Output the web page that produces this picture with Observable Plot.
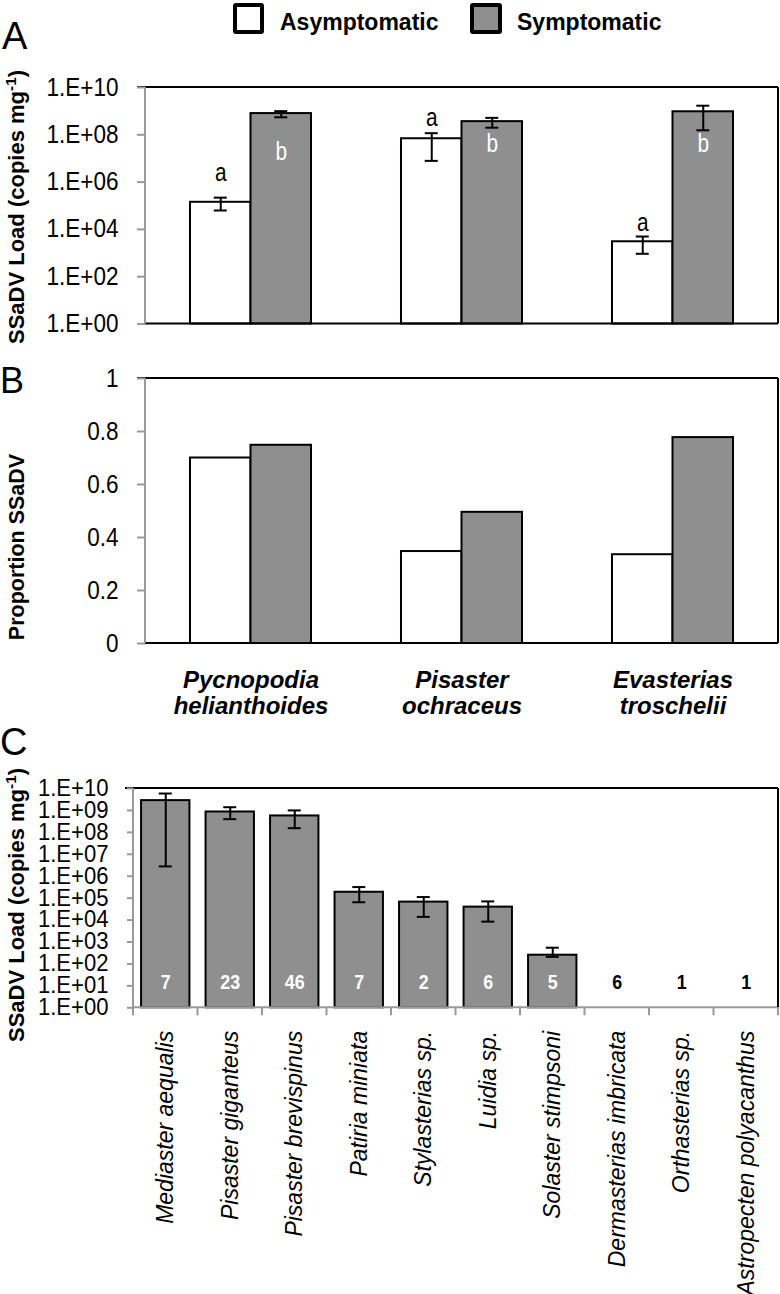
<!DOCTYPE html>
<html><head><meta charset="utf-8">
<script src="https://cdn.jsdelivr.net/npm/d3@7"></script>
<script src="https://cdn.jsdelivr.net/npm/@observablehq/plot@0.6"></script>
<style>
body{margin:0;background:#fff;}
#root{position:relative;width:780px;height:1294px;overflow:hidden;font-family:"Liberation Sans",Arial,sans-serif;color:#000;}
#root svg{position:absolute;left:0;overflow:visible;}
.rot{position:absolute;transform:translate(-50%,-50%) rotate(-90deg);white-space:nowrap;font-weight:bold;line-height:1;}
.rot sup{font-size:0.7em;vertical-align:0.55em;line-height:0;}
.letter{position:absolute;line-height:1;}
.swatch{position:absolute;box-sizing:border-box;border:4px solid #000;border-radius:3px;width:31px;height:31px;top:3px;}
.legtext{position:absolute;font-weight:bold;font-size:23px;line-height:1;top:10.5px;white-space:nowrap;}
</style></head><body><div id="root"></div>
<script>
// ---------- data ----------
const species = ["Pycnopodia helianthoides", "Pisaster ochraceus", "Evasterias troschelii"];
const speciesLines = ["Pycnopodia\nhelianthoides", "Pisaster\nochraceus", "Evasterias\ntroschelii"];
const statuses = ["Asymptomatic", "Symptomatic"];

// Panel A: SSaDV load (copies per mg)
const loadAsym   = [1.4e5, 6.8e7, 3.0e3];
const loadAsymLo = [6.3e4, 7.9e6, 9.3e2];
const loadAsymHi = [2.2e5, 1.17e8, 5.0e3];
const loadSym    = [7.9e8, 3.6e8, 9.4e8];
const loadSymLo  = [5.5e8, 2.0e8, 1.55e8];
const loadSymHi  = [1.0e9, 5.2e8, 1.7e9];
const letterAsym = ["a", "a", "a"];
const letterSym  = ["b", "b", "b"];
const letterAsymAt = [2.6e6, 5.4e8, 1.95e4];
const letterSymAt  = [1.96e7, 4.3e7, 4.3e7];

// Panel B: proportion SSaDV positive
const propAsym = [0.70, 0.347, 0.335];
const propSym  = [0.748, 0.495, 0.777];

// Panel C: other species
const otherSpecies = ["Mediaster aequalis", "Pisaster giganteus", "Pisaster brevispinus", "Patiria miniata",
  "Stylasterias sp.", "Luidia sp.", "Solaster stimpsoni", "Dermasterias imbricata", "Orthasterias sp.",
  "Astropecten polyacanthus"];
const otherLoad = [2.8e9, 8.5e8, 5.6e8, 1.86e5, 6.6e4, 3.9e4, 2.5e2, null, null, null];
const otherLo   = [2.8e6, 4.0e8, 1.55e8, 6.5e4, 1.4e4, 8.5e3, 2.1e2, null, null, null];
const otherHi   = [5.9e9, 1.4e9, 1.0e9, 3.2e5, 1.12e5, 7.1e4, 5.5e2, null, null, null];
const otherN    = [7, 23, 46, 7, 2, 6, 5, 6, 1, 1];

// tick labels
const tickLoadA = [1, 1e2, 1e4, 1e6, 1e8, 1e10];
const tickLoadALabels = ["1.E+00", "1.E+02", "1.E+04", "1.E+06", "1.E+08", "1.E+10"];
const tickLoadC = [1, 1e1, 1e2, 1e3, 1e4, 1e5, 1e6, 1e7, 1e8, 1e9, 1e10];
const tickLoadCLabels = ["1.E+00", "1.E+01", "1.E+02", "1.E+03", "1.E+04", "1.E+05", "1.E+06", "1.E+07", "1.E+08", "1.E+09", "1.E+10"];
const tickProp = [0, 0.2, 0.4, 0.6, 0.8, 1];
const tickPropLabels = ["0", "0.2", "0.4", "0.6", "0.8", "1"];

// ---------- style ----------
const W = 780;
const GRAY = "#8f8f8f", AXIS = "#9a9a9a";
const BASE = '"Liberation Sans", Arial, sans-serif';
const CAP = 13;

const root = document.getElementById("root");

function frameLines(c, w = 2) {
  return (index, scales, values, dim) => {
    const {width, height, marginTop, marginRight, marginBottom, marginLeft} = dim;
    const x1 = marginLeft, x2 = width - marginRight, y1 = marginTop, y2 = height - marginBottom;
    const g = d3.create("svg:g").attr("stroke-width", w).attr("fill", "none");
    const seg = (col, a, b, cc, d) => g.append("line").attr("x1", a).attr("y1", b).attr("x2", cc).attr("y2", d).attr("stroke", col);
    seg(c.bottom, x1, y2, x2, y2);
    seg(c.right, x2, y1, x2, y2);
    seg(c.top, x1 - 8, y1, x2, y1);
    seg(c.left, x1, y1, x1, y2);
    return g.node();
  };
}

function place(svg, top) {
  svg.style.top = top + "px";
  root.appendChild(svg);
}

// emulate a condensed (Arial Narrow-like) face by compressing glyphs horizontally
function squeeze(svg, selector, factor) {
  svg.querySelectorAll(selector).forEach(el => {
    const len = el.getComputedTextLength();
    if (len > 0) {
      el.setAttribute("textLength", (len * factor).toFixed(2));
      el.setAttribute("lengthAdjust", "spacingAndGlyphs");
    }
  });
}

// ---------- Panel A ----------
const mL = 145, mR = 2;
const pI = 0.4265, pO = pI / 2;
const stepA = (W - mL - mR) / (species.length - pI + 2 * pO);
const bwA = stepA * (1 - pI);

const rowsAsym = species.map((s, i) => ({species: s, status: statuses[0], load: loadAsym[i], lo: loadAsymLo[i], hi: loadAsymHi[i], letter: letterAsym[i], at: letterAsymAt[i], prop: propAsym[i]}));
const rowsSym = species.map((s, i) => ({species: s, status: statuses[1], load: loadSym[i], lo: loadSymLo[i], hi: loadSymHi[i], letter: letterSym[i], at: letterSymAt[i], prop: propSym[i]}));

const capAsym = {x: "species", insetLeft: bwA / 4 - CAP / 2, insetRight: 3 * bwA / 4 - CAP / 2, strokeWidth: 2};
const capSym = {x: "species", insetLeft: 3 * bwA / 4 - CAP / 2, insetRight: bwA / 4 - CAP / 2, strokeWidth: 2};

const plotA = Plot.plot({
  width: W, height: 257, marginTop: 10, marginBottom: 10.5, marginLeft: mL, marginRight: mR,
  style: {fontFamily: BASE, background: "transparent", overflow: "visible"},
  x: {type: "band", domain: species, paddingInner: pI, paddingOuter: pO, round: false, axis: null},
  y: {type: "log", domain: [1, 1e10], label: null},
  marks: [
    Plot.barY(rowsAsym, {x: "species", y1: 1, y2: "load", fill: "white", stroke: "black", strokeWidth: 2, insetRight: bwA / 2}),
    Plot.barY(rowsSym, {x: "species", y1: 1, y2: "load", fill: GRAY, stroke: "black", strokeWidth: 2, insetLeft: bwA / 2}),
    Plot.ruleX(rowsAsym, {x: "species", y1: "lo", y2: "hi", dx: -bwA / 4, strokeWidth: 2}),
    Plot.ruleX(rowsSym, {x: "species", y1: "lo", y2: "hi", dx: bwA / 4, strokeWidth: 2}),
    Plot.tickY(rowsAsym, {...capAsym, y: "hi"}),
    Plot.tickY(rowsAsym, {...capAsym, y: "lo"}),
    Plot.tickY(rowsSym, {...capSym, y: "hi"}),
    Plot.tickY(rowsSym, {...capSym, y: "lo"}),
    Plot.text(rowsAsym, {x: "species", y: "at", text: "letter", dx: -bwA / 4, fill: "black", fontSize: 26}),
    Plot.text(rowsSym, {x: "species", y: "at", text: "letter", dx: bwA / 4, fill: "white", fontSize: 26}),
    frameLines({top: "black", right: "black", bottom: "black", left: AXIS}),
    Plot.axisY({ticks: tickLoadA, tickFormat: d => tickLoadALabels[tickLoadA.indexOf(d)], tickSize: 8, tickPadding: 19,
      stroke: AXIS, strokeWidth: 2, fontSize: 25, label: null})
  ]
});
place(plotA, 77);
squeeze(plotA, 'g[aria-label="y-axis tick label"] text', 0.9);
squeeze(plotA, 'g[aria-label="text"] text', 0.8);

// ---------- Panel B ----------
const plotB = Plot.plot({
  width: W, height: 360, marginTop: 10, marginBottom: 85, marginLeft: mL, marginRight: mR,
  style: {fontFamily: BASE, background: "transparent", overflow: "visible"},
  x: {type: "band", domain: species, paddingInner: pI, paddingOuter: pO, round: false, label: null},
  y: {domain: [0, 1], label: null},
  marks: [
    Plot.barY(rowsAsym, {x: "species", y1: 0, y2: "prop", fill: "white", stroke: "black", strokeWidth: 2, insetRight: bwA / 2}),
    Plot.barY(rowsSym, {x: "species", y1: 0, y2: "prop", fill: GRAY, stroke: "black", strokeWidth: 2, insetLeft: bwA / 2}),
    frameLines({top: "black", right: "black", bottom: "black", left: AXIS}),
    Plot.axisY({ticks: tickProp, tickFormat: d => tickPropLabels[tickProp.indexOf(d)], tickSize: 8, tickPadding: 19,
      stroke: AXIS, strokeWidth: 2, fontSize: 25, label: null}),
    Plot.axisX({tickSize: 0, tickPadding: 26, fontSize: 24, fontWeight: "bold", fontStyle: "italic", lineHeight: 1.08,
      tickFormat: d => speciesLines[species.indexOf(d)], label: null})
  ]
});
place(plotB, 368);
squeeze(plotB, 'g[aria-label="y-axis tick label"] text', 0.9);

// ---------- Panel C ----------
const mLC = 133, mRC = 2;
const pIC = 0.25, pOC = 0.125;
const stepC = (W - mLC - mRC) / (otherSpecies.length - pIC + 2 * pOC);
const bwC = stepC * (1 - pIC);
const rowsC = otherSpecies.map((s, i) => ({name: s, load: otherLoad[i], lo: otherLo[i], hi: otherHi[i], n: otherN[i]}));
const barsC = rowsC.filter(d => d.load != null);
const emptyC = rowsC.filter(d => d.load == null);
const capC = {x: "name", inset: (bwC - CAP) / 2, strokeWidth: 2};

function bandEdgeTicks(len, color) {
  return (index, scales, values, dim) => {
    const x = scales.x;
    const dom = x.domain();
    const step = x.step ? x.step() : stepC;
    const bw = x.bandwidth ? x.bandwidth() : bwC;
    const y0 = dim.height - dim.marginBottom;
    const edges = dom.map(d => x(d) - (step - bw) / 2);
    edges.push(x(dom[dom.length - 1]) + bw + (step - bw) / 2);
    const g = d3.create("svg:g").attr("stroke", color).attr("stroke-width", 2);
    for (const e of edges) g.append("line").attr("x1", e).attr("x2", e).attr("y1", y0).attr("y2", y0 + len);
    return g.node();
  };
}

const plotC = Plot.plot({
  width: W, height: 516, marginTop: 10, marginBottom: 286.7, marginLeft: mLC, marginRight: mRC,
  style: {fontFamily: BASE, background: "transparent", overflow: "visible"},
  x: {type: "band", domain: otherSpecies, paddingInner: pIC, paddingOuter: pOC, round: false, label: null},
  y: {type: "log", domain: [1, 1e10], label: null},
  marks: [
    Plot.barY(barsC, {x: "name", y1: 1, y2: "load", fill: GRAY, stroke: "black", strokeWidth: 2}),
    Plot.ruleX(barsC, {x: "name", y1: "lo", y2: "hi", strokeWidth: 2}),
    Plot.tickY(barsC, {...capC, y: "hi"}),
    Plot.tickY(barsC, {...capC, y: "lo"}),
    Plot.text(barsC, {x: "name", frameAnchor: "bottom", dy: -19, text: d => String(d.n), fill: "white", fontWeight: "bold", fontSize: 21}),
    Plot.text(emptyC, {x: "name", frameAnchor: "bottom", dy: -19, text: d => String(d.n), fill: "black", fontWeight: "bold", fontSize: 21}),
    frameLines({top: "black", right: "black", bottom: AXIS, left: AXIS}),
    bandEdgeTicks(8, AXIS),
    Plot.axisY({ticks: tickLoadC, tickFormat: d => tickLoadCLabels[tickLoadC.indexOf(d)], tickSize: 6, tickPadding: 19,
      stroke: AXIS, strokeWidth: 2, fontSize: 23, label: null}),
    Plot.axisX({tickSize: 0, tickPadding: 23, tickRotate: -90, fontSize: 23, fontStyle: "italic", label: null})
  ]
});
place(plotC, 778);
squeeze(plotC, 'g[aria-label="y-axis tick label"] text', 0.96);
squeeze(plotC, 'g[aria-label="text"] text', 0.85);

// ---------- HTML annotations ----------
function addDiv(cls, html, styles) {
  const d = document.createElement("div");
  d.className = cls;
  d.innerHTML = html;
  Object.assign(d.style, styles);
  root.appendChild(d);
  return d;
}
// legend
addDiv("swatch", "", {left: "233px", background: "#fff"});
addDiv("legtext", statuses[0], {left: "280px"});
addDiv("swatch", "", {left: "470px", background: GRAY, width: "32px"});
addDiv("legtext", statuses[1], {left: "517px"});
// panel letters
addDiv("letter", "A", {left: "2px", top: "17px", fontSize: "38px"});
addDiv("letter", "B", {left: "0px", top: "363px", fontSize: "36px"});
addDiv("letter", "C", {left: "0px", top: "723px", fontSize: "38px"});
// y titles
addDiv("rot", "SSaDV Load (copies mg<sup>-1</sup>)", {left: "17px", top: "207px", fontSize: "22px"});
addDiv("rot", "Proportion SSaDV", {left: "18px", top: "547px", fontSize: "21.5px"});
addDiv("rot", "SSaDV Load (copies mg<sup>-1</sup>)", {left: "17px", top: "905px", fontSize: "22px"});
</script>
</body></html>
